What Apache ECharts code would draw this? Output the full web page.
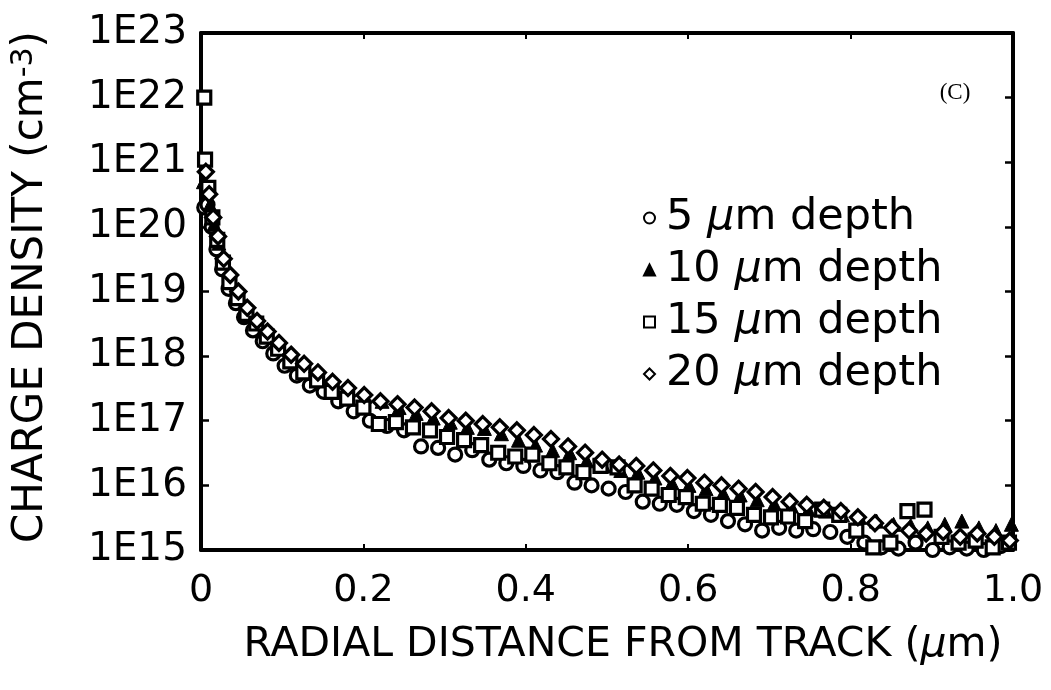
<!DOCTYPE html>
<html>
<head>
<meta charset="utf-8">
<style>
html,body{margin:0;padding:0;background:#fff;}
#chart{width:1051px;height:690px;}
</style>
<script src="https://cdn.jsdelivr.net/npm/echarts@6/dist/echarts.min.js"></script>
</head>
<body>
<div id="chart"></div>
<script>
// ---- data ----
const seriesNames = ['5 μm depth', '10 μm depth', '15 μm depth', '20 μm depth'];
const xTickLabels = ['0', '0.2', '0.4', '0.6', '0.8', '1.0'];

// 5 um depth (open circles)
const x5 = [0.004,0.008,0.013,0.019,0.026,0.034,0.043,0.053,0.064,0.076,0.089,0.103,0.118,0.134,0.151,0.169,0.188,
  0.208,0.229,0.250,0.271,0.292,0.313,0.334,0.355,0.376,0.397,0.418,0.439,0.460,0.481,0.502,0.523,0.544,0.565,0.586,
  0.607,0.628,0.649,0.670,0.691,0.712,0.733,0.754,0.775,0.796,0.817,0.838,0.859,0.880,0.901,0.922,0.943,0.964,0.985];
const y5 = [2.0e20,2.2e20,1.0e20,4.5e19,2.2e19,1.1e19,6.6e18,4.0e18,2.5e18,1.7e18,1.1e18,7.1e17,5.0e17,3.5e17,2.8e17,2.0e17,1.4e17,
  1.0e17,8.3e16,7.1e16,4.0e16,3.8e16,3.0e16,3.5e16,2.5e16,2.2e16,2.0e16,1.7e16,1.6e16,1.1e16,1.0e16,8.9e15,7.9e15,5.6e15,5.2e15,5.0e15,
  4.0e15,3.5e15,2.8e15,2.5e15,2.0e15,2.2e15,2.0e15,2.1e15,1.9e15,1.6e15,1.3e15,1.1e15,1.05e15,1.3e15,1.0e15,1.1e15,1.05e15,1.0e15,1.15e15];

// 10 um depth (filled triangles)
const x10 = [0.003,0.007,0.011,0.016,0.022,0.029,0.037,0.047,0.058,0.070,0.083,0.097,0.112,0.128,0.145,0.163,0.182,
  0.202,0.223,0.244,0.265,0.286,0.307,0.328,0.349,0.370,0.391,0.412,0.433,0.454,0.475,0.496,0.517,0.538,0.559,0.580,
  0.601,0.622,0.643,0.664,0.685,0.706,0.727,0.748,0.769,0.790,0.811,0.832,0.853,0.874,0.895,0.916,0.937,0.958,0.979,0.998];
const y10 = [5.0e20,4.0e20,2.2e20,1.1e20,5.6e19,2.8e19,1.6e19,8.9e18,5.2e18,3.3e18,2.2e18,1.4e18,1.0e18,7.1e17,5.2e17,4.0e17,3.0e17,
  2.4e17,2.0e17,1.6e17,1.3e17,1.1e17,9.5e16,7.9e16,7.6e16,6.3e16,5.0e16,4.2e16,3.5e16,3.2e16,2.4e16,2.0e16,1.7e16,1.6e16,1.3e16,1.1e16,
  1.0e16,8.9e15,7.6e15,7.1e15,6.0e15,5.2e15,4.8e15,4.2e15,4.0e15,3.5e15,3.2e15,2.8e15,2.5e15,2.4e15,2.2e15,2.5e15,2.8e15,2.2e15,2.0e15,2.5e15];

// 15 um depth (open squares)
const x15 = [0.004,0.005,0.009,0.014,0.020,0.027,0.035,0.045,0.056,0.068,0.081,0.095,0.110,0.126,0.143,0.161,0.180,
  0.200,0.219,0.240,0.261,0.282,0.303,0.324,0.345,0.366,0.387,0.408,0.429,0.450,0.471,0.492,0.513,0.534,0.555,0.576,
  0.597,0.618,0.639,0.660,0.681,0.702,0.723,0.744,0.765,0.786,0.807,0.828,0.849,0.870,0.891,0.912,0.933,0.954,0.975,0.995];
const y15 = [1.0e22,1.1e21,4.0e20,1.4e20,6.3e19,2.8e19,1.4e19,7.9e18,4.5e18,3.2e18,2.0e18,1.3e18,8.3e17,5.6e17,4.2e17,2.8e17,2.2e17,
  1.6e17,8.9e16,9.5e16,7.9e16,7.1e16,5.6e16,5.0e16,4.2e16,3.2e16,2.8e16,3.0e16,2.2e16,1.9e16,1.6e16,2.0e16,1.9e16,1.0e16,8.9e15,7.1e15,
  6.6e15,5.2e15,5.0e15,4.5e15,3.5e15,3.2e15,3.3e15,2.8e15,4.2e15,3.5e15,2.0e15,1.1e15,1.3e15,4.0e15,4.2e15,1.6e15,1.3e15,1.4e15,1.1e15,1.3e15];

// 20 um depth (open diamonds)
const x20 = [0.006,0.010,0.015,0.021,0.028,0.036,0.046,0.057,0.069,0.082,0.096,0.111,0.127,0.144,0.162,0.181,
  0.201,0.221,0.242,0.263,0.284,0.305,0.326,0.347,0.368,0.389,0.410,0.431,0.452,0.473,0.494,0.515,0.536,0.557,0.578,
  0.599,0.620,0.641,0.662,0.683,0.704,0.725,0.746,0.767,0.788,0.809,0.830,0.851,0.872,0.893,0.914,0.935,0.956,0.977,0.996];
const y20 = [7.1e20,3.2e20,1.4e20,7.1e19,3.2e19,1.8e19,1.0e19,5.6e18,3.5e18,2.4e18,1.6e18,1.05e18,7.6e17,5.6e17,4.0e17,3.2e17,
  2.5e17,2.0e17,1.8e17,1.6e17,1.4e17,1.1e17,1.0e17,8.9e16,7.9e16,7.1e16,6.0e16,5.2e16,4.0e16,3.2e16,2.5e16,2.1e16,2.0e16,1.7e16,1.4e16,
  1.3e16,1.1e16,1.0e16,8.9e15,7.9e15,6.6e15,5.6e15,5.0e15,4.5e15,4.0e15,3.2e15,2.6e15,2.2e15,2.0e15,1.8e15,1.9e15,1.6e15,1.8e15,1.6e15,1.4e15];

// ---- chart ----
const FONT = '"DejaVu Sans", "Liberation Sans", Arial, sans-serif';
const pairs = (xs, ys) => xs.map((x, i) => [x, ys[i]]);
const openStyle = {color: '#fff', borderColor: '#000', borderWidth: 3.2, opacity: 1};

const chart = echarts.init(document.getElementById('chart'), null, {renderer: 'canvas'});
const axisLine = {show: true, onZero: false, lineStyle: {color: '#000', width: 4}};

chart.setOption({
  animation: false,
  backgroundColor: '#fff',
  grid: {left: 201, right: 38, top: 33, bottom: 140, containLabel: false},
  xAxis: [{
    type: 'value', min: 0, max: 1, interval: 0.2, position: 'bottom',
    axisLine: axisLine,
    axisTick: {show: true, inside: true, length: 6, lineStyle: {color: '#000', width: 2}},
    splitLine: {show: false},
    axisLabel: {
      show: true, margin: 22, color: '#000', fontFamily: FONT, fontSize: 38,
      formatter: (v) => xTickLabels[Math.round(v / 0.2)]
    }
  }, {
    type: 'value', min: 0, max: 1, interval: 0.2, position: 'top',
    axisLine: axisLine,
    axisTick: {show: true, inside: true, length: 6, lineStyle: {color: '#000', width: 2}},
    axisLabel: {show: false}, splitLine: {show: false}
  }],
  yAxis: [{
    type: 'log', logBase: 10, min: 1e15, max: 1e23, splitNumber: 8, position: 'left',
    axisLine: axisLine,
    axisTick: {show: true, inside: true, length: 8, lineStyle: {color: '#000', width: 2.5}},
    splitLine: {show: false}, minorTick: {show: false},
    axisLabel: {
      show: true, margin: 14, color: '#000', fontFamily: FONT, fontSize: 39,
      formatter: (v) => '1E' + Math.round(Math.log10(v))
    }
  }, {
    type: 'log', logBase: 10, min: 1e15, max: 1e23, splitNumber: 8, position: 'right',
    axisLine: axisLine,
    axisTick: {show: true, inside: true, length: 8, lineStyle: {color: '#000', width: 2.5}},
    axisLabel: {show: false}, splitLine: {show: false}
  }],
  legend: {
    orient: 'vertical', left: 638, top: 190, itemGap: 6,
    itemWidth: 11, itemHeight: 11,
    data: seriesNames,
    formatter: (name) => name.replace('μ', '{i|μ}'),
    textStyle: {
      color: '#000', fontFamily: FONT, fontSize: 43, lineHeight: 46, padding: [0, 0, 0, 6],
      rich: {i: {fontFamily: FONT, fontSize: 43, fontStyle: 'italic', color: '#000'}}
    }
  },
  graphic: [{
    type: 'text', x: 623, y: 645,
    style: {
      text: 'RADIAL DISTANCE FROM TRACK ({i|μ}m)', fill: '#000',
      fontFamily: FONT, fontSize: 41, align: 'center', verticalAlign: 'middle',
      rich: {i: {fontFamily: FONT, fontSize: 41, fontStyle: 'italic', fill: '#000'}}
    }
  }, {
    type: 'text', x: 31, y: 287, rotation: Math.PI / 2,
    style: {
      text: 'CHARGE DENSITY (cm{sup|-3})', fill: '#000',
      fontFamily: FONT, fontSize: 42, align: 'center', verticalAlign: 'middle',
      rich: {sup: {fontFamily: FONT, fontSize: 30, verticalAlign: 'top', padding: [0, 0, 14, 0], fill: '#000'}}
    }
  }, {
    type: 'text', x: 955, y: 93,
    style: {
      text: '(C)', fill: '#000', font: '23px "Liberation Serif", "DejaVu Serif", serif',
      align: 'center', verticalAlign: 'middle'
    }
  }],
  series: [{
    name: seriesNames[0], type: 'scatter', clip: true, symbol: 'circle', symbolSize: 13,
    itemStyle: openStyle, data: pairs(x5, y5)
  }, {
    name: seriesNames[1], type: 'scatter', clip: true, symbol: 'triangle', symbolSize: 14,
    itemStyle: {color: '#000', borderColor: '#000', borderWidth: 1, opacity: 1}, data: pairs(x10, y10)
  }, {
    name: seriesNames[2], type: 'scatter', clip: true, symbol: 'rect', symbolSize: 13,
    itemStyle: openStyle, data: pairs(x15, y15)
  }, {
    name: seriesNames[3], type: 'scatter', clip: true, symbol: 'diamond', symbolSize: 15,
    itemStyle: openStyle, data: pairs(x20, y20)
  }]
});
</script>
</body>
</html>
